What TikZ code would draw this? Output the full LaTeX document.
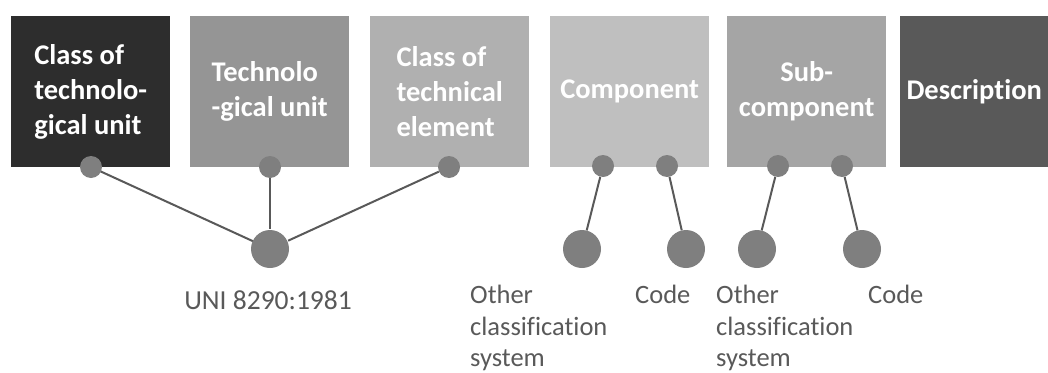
\documentclass[tikz,border=0pt]{standalone}
\usepackage{fontspec}
\setmainfont[Ligatures=NoCommon]{Carlito}
\usepackage{tikz}

\definecolor{boxa}{HTML}{2D2D2D}
\definecolor{boxb}{HTML}{959595}
\definecolor{boxc}{HTML}{B0B0B0}
\definecolor{boxd}{HTML}{BFBFBF}
\definecolor{boxe}{HTML}{A5A5A5}
\definecolor{boxf}{HTML}{595959}
\definecolor{dotgray}{HTML}{7F7F7F}
\definecolor{linegray}{HTML}{595959}

\begin{document}
\begin{tikzpicture}[x=1pt,y=-1pt,
  box/.style={rectangle,fill=#1,text=white,anchor=north west,inner sep=0pt,
    minimum width=159pt,minimum height=151pt,font=\fontsize{28.5}{35}\selectfont\bfseries},
  leftbox/.style={box=#1,align=left},
  midbox/.style={box=#1,align=center},
  dot/.style={circle,fill=dotgray,inner sep=0pt,minimum size=22pt},
  bigdot/.style={circle,fill=dotgray,inner sep=0pt,minimum size=38pt},
  link/.style={draw=linegray,line width=2pt},
  lbl/.style={text=linegray,inner sep=0pt,font=\fontsize{26.5}{31.5}\selectfont}]
      \useasboundingbox (0,0) rectangle (1048,372);
      \node [leftbox=boxa] (ctu) at (11,16) {Class of\\technolo-\\gical unit};
      \node [leftbox=boxb] (tu) at (190,16) {Technolo\\-gical unit};
      \node [leftbox=boxc] (cte) at (370,16) {Class of\\technical\\element};
      \node [midbox=boxd] (comp) at (550,16) {Component};
      \node [midbox=boxe] (sub) at (727,16) {Sub-\\component};
      \node [midbox=boxf,minimum width=148pt] (desc) at (900,16) {Description};
      % connectors
      \draw [link] (91,167) node [dot] (a) {} -- (270,249) node [bigdot] (uni) {};
      \node [dot] (b) at (270,167) {};
      \node [dot] (c) at (449,167) {};
      \draw [link] (b) -- (uni);
      \draw [link] (c) -- (uni);
      \node [dot] (d) at (603,166) {};
      \node [dot] (e) at (667,166) {};
      \node [dot] (f) at (778,166) {};
      \node [dot] (g) at (842,166) {};
      \node [bigdot] (oth1) at (582,249) {};
      \node [bigdot] (code1) at (686,249) {};
      \node [bigdot] (oth2) at (757,249) {};
      \node [bigdot] (code2) at (862,249) {};
      \draw [link] (d) -- (oth1);
      \draw [link] (e) -- (code1);
      \draw [link] (f) -- (oth2);
      \draw [link] (g) -- (code2);
      % labels
      \node [lbl,font=\fontsize{27.5}{31.5}\selectfont] (unilbl) at (268,300) {UNI 8290:1981};
      \node [lbl,align=left,anchor=north west] (othlbl1) at (470,285) {Other\\classification\\system};
      \node [lbl,anchor=north west] (codelbl1) at (635,285) {Code};
      \node [lbl,align=left,anchor=north west] (othlbl2) at (716,285) {Other\\classification\\system};
      \node [lbl,anchor=north west] (codelbl2) at (868,285) {Code};
    \end{tikzpicture}
\end{document}
